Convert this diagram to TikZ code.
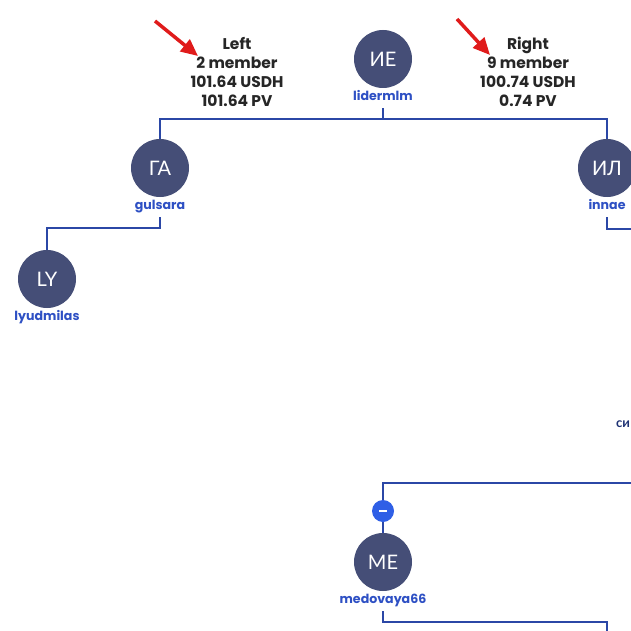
\documentclass[tikz,border=0pt]{standalone}
\usepackage{fontspec}
\setmainfont{Poppins}
\newfontfamily\cyr{Lato}
\usepackage{xcolor}
\usepackage{tikz}
\usetikzlibrary{arrows.meta, positioning}
\definecolor{avatar}{HTML}{454E77}
\definecolor{branch}{HTML}{2B47A6}
\definecolor{login}{HTML}{2E50C4}
\definecolor{toggle}{HTML}{2F5FE6}
\definecolor{pointer}{HTML}{E01B1B}
\newcommand{\lbl}{\fontsize{12.6}{14}\selectfont\bfseries}
\newcommand{\ini}{\fontsize{20}{22}\selectfont\cyr}
\newcommand{\sts}{\fontsize{15.5}{19.2}\selectfont\bfseries}

\begin{document}
\begin{tikzpicture}[x=1pt, y=-1pt,
    user/.style = {circle, fill=avatar, minimum size=58pt, inner sep=0pt, text=white, font=\ini},
    uname/.style = {below=-2pt of #1, inner xsep=2pt, inner ysep=5pt, text height=1.6ex, text depth=.5ex, text=login, font=\lbl},
    link/.style = {draw=branch, line width=1.4pt},
    stats/.style = {align=center, text=black!85, font=\sts},
    arr/.style = {draw=pointer, line width=3.5pt, -{Triangle[length=17pt, width=15pt]}}]
      \fill[white] (0,0) rectangle (631,631);
      \useasboundingbox (0,0) rectangle (631,631);
      \clip (0,0) rectangle (631,631);
      % people
      \node[user] (ie) at (383,59) {ИЕ};
      \node[uname=ie] (lie) {lidermlm};
      \node[user] (ga) at (160,168) {ГА};
      \node[uname=ga] (lga) {gulsara};
      \node[user] (il) at (607,168) {ИЛ};
      \node[uname=il] (lil) {innae};
      \node[user] (ly) at (47,279) {LY};
      \node[uname=ly] (lly) {lyudmilas};
      \node[user] (me) at (383,562) {ME};
      \node[uname=me] (lme) {medovaya66};
      \node[anchor=west, inner sep=0pt, text=branch!70!black, font={\fontsize{13}{14}\selectfont\cyr\bfseries}] (si) at (616,424) {си};
      \node[circle, fill=toggle, minimum size=22pt, inner sep=0pt] (tog) at (383,511) {};
      \draw[white, line width=2pt] ([xshift=-4pt]tog.center) -- ([xshift=4pt]tog.center);
      % totals
      \node[stats] (left) at (237,72) {Left\\2 member\\101.64 USDH\\101.64 PV};
      \node[stats] (right) at (528,72) {Right\\9 member\\100.74 USDH\\0.74 PV};
      % branches
      \coordinate (edge1) at (640,229);
      \coordinate (edge2) at (640,483);
      \coordinate (edge3) at (607,640);
      \draw[link] (lie.south) -- ++(0,11) coordinate (jie) -| (ga.north);
      \draw[link] (jie) -| (il.north);
      \draw[link] (lga.south) -- ++(0,11) -| (ly.north);
      \draw[link] (lil.south) |- (edge1);
      \draw[link] (tog.north) |- (edge2);
      \draw[link] (tog.south) -- (me.north);
      \draw[link] (lme.south) -- ++(0,11) -| (edge3);
      % pointers
      \coordinate (p1) at (155,21);
      \coordinate (t1) at (198,56);
      \coordinate (p2) at (457,19);
      \coordinate (t2) at (490,55);
      \foreach \i\j in {p1/t1, p2/t2} {
        \draw[arr] (\i) -- (\j);
      }
\end{tikzpicture}
\end{document}
